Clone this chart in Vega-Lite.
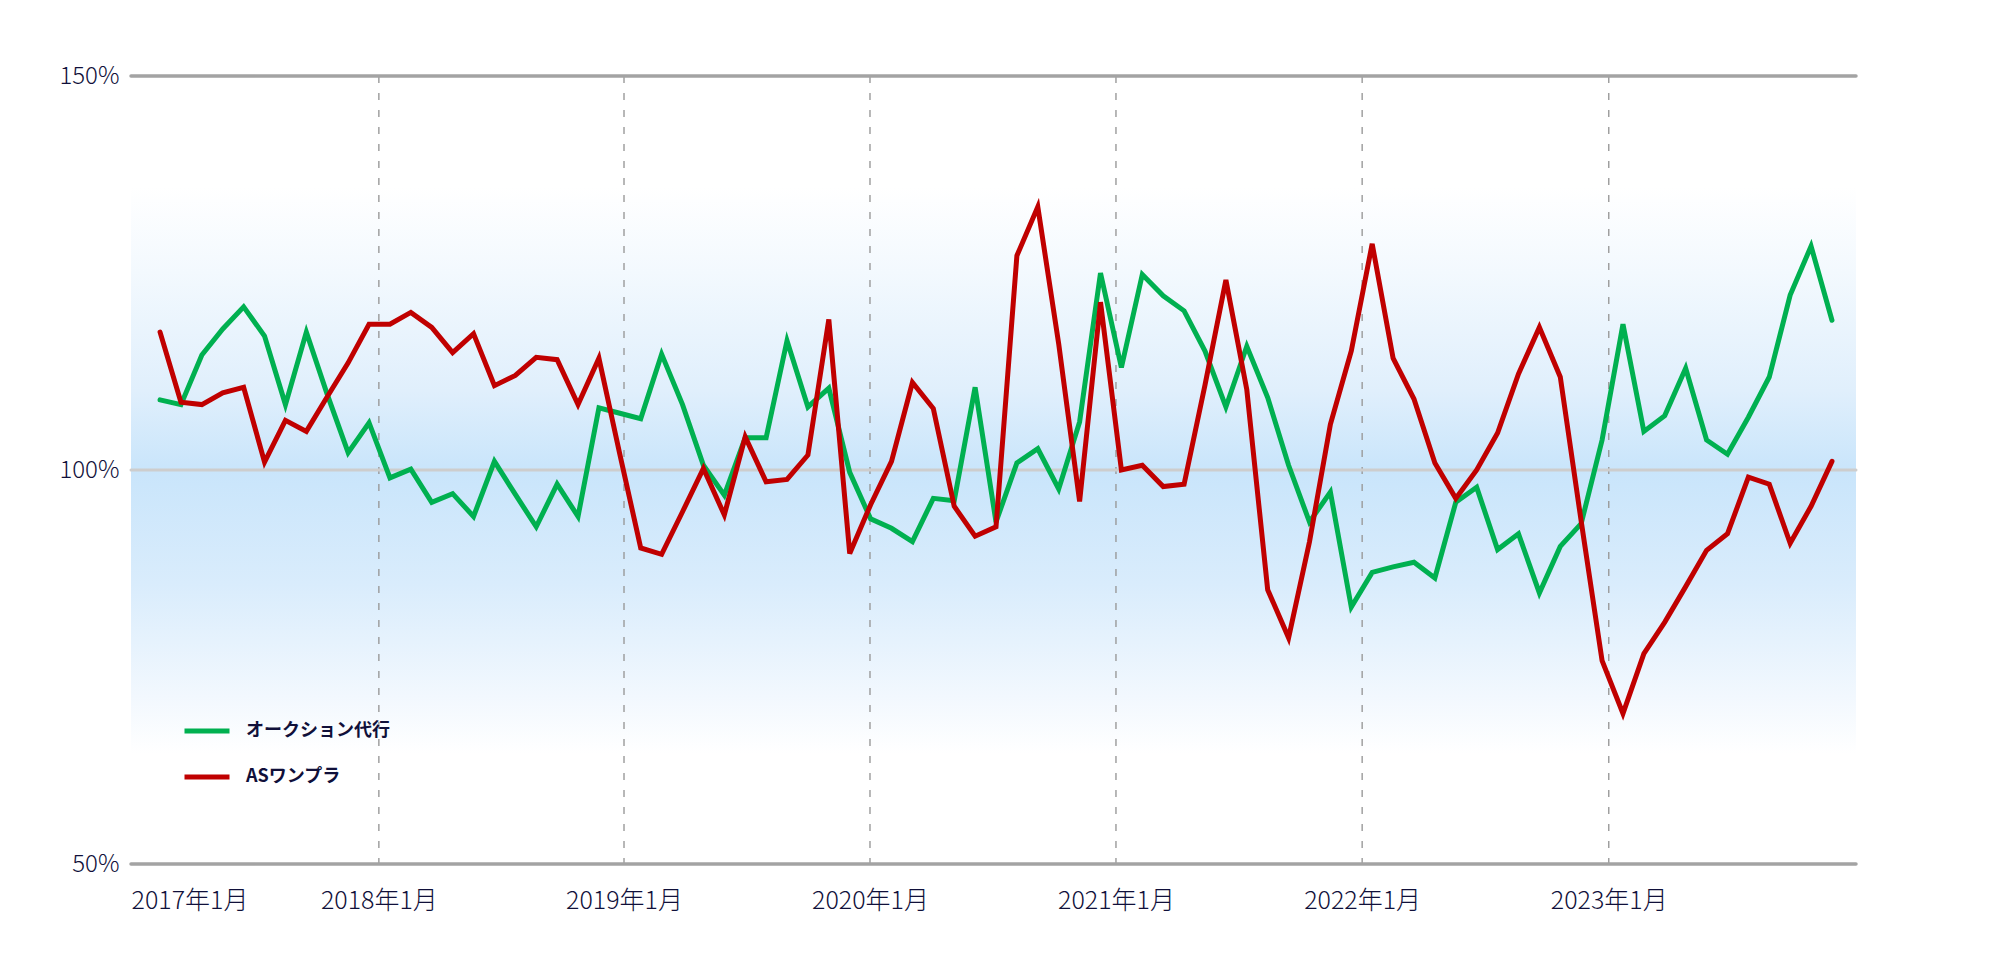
{
  "$schema": "https://vega.github.io/schema/vega-lite/v6.json",
  "width": 1725,
  "height": 788,
  "autosize": {"type": "none"},
  "padding": {"left": 131, "top": 76, "right": 144, "bottom": 99},
  "background": "white",
  "config": {"view": {"stroke": null}, "font": "Noto Sans CJK JP"},
  "datasets": {
    "band": [{"idx": -1.39, "idx2": 81.15, "value": 64, "value2": 136}],
    "hlines": [{"value": 150}, {"value": 100}, {"value": 50}],
    "vlines": [{"idx": 10.47}, {"idx": 22.2}, {"idx": 33.97}, {"idx": 45.74}, {"idx": 57.52}, {"idx": 69.32}],
    "series": [
      {"idx":0,"series":"オークション代行","value":108.9},{"idx":1,"series":"オークション代行","value":108.3},{"idx":2,"series":"オークション代行","value":114.6},{"idx":3,"series":"オークション代行","value":117.9},{"idx":4,"series":"オークション代行","value":120.7},{"idx":5,"series":"オークション代行","value":117.0},{"idx":6,"series":"オークション代行","value":108.3},{"idx":7,"series":"オークション代行","value":117.5},{"idx":8,"series":"オークション代行","value":109.6},{"idx":9,"series":"オークション代行","value":102.2},
      {"idx":10,"series":"オークション代行","value":106.0},{"idx":11,"series":"オークション代行","value":99.0},{"idx":12,"series":"オークション代行","value":100.1},{"idx":13,"series":"オークション代行","value":95.9},{"idx":14,"series":"オークション代行","value":97.0},{"idx":15,"series":"オークション代行","value":94.1},{"idx":16,"series":"オークション代行","value":101.1},{"idx":17,"series":"オークション代行","value":96.9},{"idx":18,"series":"オークション代行","value":92.8},{"idx":19,"series":"オークション代行","value":98.2},
      {"idx":20,"series":"オークション代行","value":94.1},{"idx":21,"series":"オークション代行","value":107.9},{"idx":22,"series":"オークション代行","value":107.2},{"idx":23,"series":"オークション代行","value":106.5},{"idx":24,"series":"オークション代行","value":114.7},{"idx":25,"series":"オークション代行","value":108.3},{"idx":26,"series":"オークション代行","value":100.6},{"idx":27,"series":"オークション代行","value":96.8},{"idx":28,"series":"オークション代行","value":104.1},{"idx":29,"series":"オークション代行","value":104.1},
      {"idx":30,"series":"オークション代行","value":116.4},{"idx":31,"series":"オークション代行","value":108.0},{"idx":32,"series":"オークション代行","value":110.4},{"idx":33,"series":"オークション代行","value":99.7},{"idx":34,"series":"オークション代行","value":93.8},{"idx":35,"series":"オークション代行","value":92.6},{"idx":36,"series":"オークション代行","value":90.9},{"idx":37,"series":"オークション代行","value":96.4},{"idx":38,"series":"オークション代行","value":96.1},{"idx":39,"series":"オークション代行","value":110.5},
      {"idx":40,"series":"オークション代行","value":93.4},{"idx":41,"series":"オークション代行","value":100.9},{"idx":42,"series":"オークション代行","value":102.7},{"idx":43,"series":"オークション代行","value":97.6},{"idx":44,"series":"オークション代行","value":106.1},{"idx":45,"series":"オークション代行","value":125.0},{"idx":46,"series":"オークション代行","value":113.0},{"idx":47,"series":"オークション代行","value":124.8},{"idx":48,"series":"オークション代行","value":122.1},{"idx":49,"series":"オークション代行","value":120.2},
      {"idx":50,"series":"オークション代行","value":115.1},{"idx":51,"series":"オークション代行","value":108.0},{"idx":52,"series":"オークション代行","value":115.7},{"idx":53,"series":"オークション代行","value":109.2},{"idx":54,"series":"オークション代行","value":100.6},{"idx":55,"series":"オークション代行","value":93.4},{"idx":56,"series":"オークション代行","value":97.2},{"idx":57,"series":"オークション代行","value":82.6},{"idx":58,"series":"オークション代行","value":87.0},{"idx":59,"series":"オークション代行","value":87.7},
      {"idx":60,"series":"オークション代行","value":88.3},{"idx":61,"series":"オークション代行","value":86.3},{"idx":62,"series":"オークション代行","value":95.9},{"idx":63,"series":"オークション代行","value":97.8},{"idx":64,"series":"オークション代行","value":89.9},{"idx":65,"series":"オークション代行","value":91.9},{"idx":66,"series":"オークション代行","value":84.4},{"idx":67,"series":"オークション代行","value":90.3},{"idx":68,"series":"オークション代行","value":93.2},{"idx":69,"series":"オークション代行","value":103.8},
      {"idx":70,"series":"オークション代行","value":118.5},{"idx":71,"series":"オークション代行","value":104.9},{"idx":72,"series":"オークション代行","value":106.9},{"idx":73,"series":"オークション代行","value":112.9},{"idx":74,"series":"オークション代行","value":103.8},{"idx":75,"series":"オークション代行","value":102.0},{"idx":76,"series":"オークション代行","value":106.7},{"idx":77,"series":"オークション代行","value":111.8},{"idx":78,"series":"オークション代行","value":122.2},{"idx":79,"series":"オークション代行","value":128.4},
      {"idx":80,"series":"オークション代行","value":119.0},
      {"idx":0,"series":"ASワンプラ","value":117.5},{"idx":1,"series":"ASワンプラ","value":108.6},{"idx":2,"series":"ASワンプラ","value":108.3},{"idx":3,"series":"ASワンプラ","value":109.8},{"idx":4,"series":"ASワンプラ","value":110.5},{"idx":5,"series":"ASワンプラ","value":101.0},{"idx":6,"series":"ASワンプラ","value":106.3},{"idx":7,"series":"ASワンプラ","value":104.9},{"idx":8,"series":"ASワンプラ","value":109.3},{"idx":9,"series":"ASワンプラ","value":113.6},
      {"idx":10,"series":"ASワンプラ","value":118.5},{"idx":11,"series":"ASワンプラ","value":118.5},{"idx":12,"series":"ASワンプラ","value":120.0},{"idx":13,"series":"ASワンプラ","value":118.1},{"idx":14,"series":"ASワンプラ","value":114.9},{"idx":15,"series":"ASワンプラ","value":117.3},{"idx":16,"series":"ASワンプラ","value":110.7},{"idx":17,"series":"ASワンプラ","value":112.0},{"idx":18,"series":"ASワンプラ","value":114.3},{"idx":19,"series":"ASワンプラ","value":114.0},
      {"idx":20,"series":"ASワンプラ","value":108.3},{"idx":21,"series":"ASワンプラ","value":114.2},{"idx":22,"series":"ASワンプラ","value":102.0},{"idx":23,"series":"ASワンプラ","value":90.1},{"idx":24,"series":"ASワンプラ","value":89.3},{"idx":25,"series":"ASワンプラ","value":94.7},{"idx":26,"series":"ASワンプラ","value":100.2},{"idx":27,"series":"ASワンプラ","value":94.3},{"idx":28,"series":"ASワンプラ","value":104.2},{"idx":29,"series":"ASワンプラ","value":98.5},
      {"idx":30,"series":"ASワンプラ","value":98.8},{"idx":31,"series":"ASワンプラ","value":101.9},{"idx":32,"series":"ASワンプラ","value":119.1},{"idx":33,"series":"ASワンプラ","value":89.4},{"idx":34,"series":"ASワンプラ","value":95.6},{"idx":35,"series":"ASワンプラ","value":101.1},{"idx":36,"series":"ASワンプラ","value":111.1},{"idx":37,"series":"ASワンプラ","value":107.8},{"idx":38,"series":"ASワンプラ","value":95.4},{"idx":39,"series":"ASワンプラ","value":91.6},
      {"idx":40,"series":"ASワンプラ","value":92.8},{"idx":41,"series":"ASワンプラ","value":127.2},{"idx":42,"series":"ASワンプラ","value":133.4},{"idx":43,"series":"ASワンプラ","value":116.0},{"idx":44,"series":"ASワンプラ","value":96.0},{"idx":45,"series":"ASワンプラ","value":121.3},{"idx":46,"series":"ASワンプラ","value":100.0},{"idx":47,"series":"ASワンプラ","value":100.6},{"idx":48,"series":"ASワンプラ","value":97.9},{"idx":49,"series":"ASワンプラ","value":98.2},
      {"idx":50,"series":"ASワンプラ","value":110.8},{"idx":51,"series":"ASワンプラ","value":124.1},{"idx":52,"series":"ASワンプラ","value":110.2},{"idx":53,"series":"ASワンプラ","value":84.8},{"idx":54,"series":"ASワンプラ","value":78.7},{"idx":55,"series":"ASワンプラ","value":90.9},{"idx":56,"series":"ASワンプラ","value":105.8},{"idx":57,"series":"ASワンプラ","value":115.1},{"idx":58,"series":"ASワンプラ","value":128.7},{"idx":59,"series":"ASワンプラ","value":114.2},
      {"idx":60,"series":"ASワンプラ","value":109.0},{"idx":61,"series":"ASワンプラ","value":100.9},{"idx":62,"series":"ASワンプラ","value":96.4},{"idx":63,"series":"ASワンプラ","value":100.0},{"idx":64,"series":"ASワンプラ","value":104.7},{"idx":65,"series":"ASワンプラ","value":112.2},{"idx":66,"series":"ASワンプラ","value":118.1},{"idx":67,"series":"ASワンプラ","value":111.8},{"idx":68,"series":"ASワンプラ","value":93.5},{"idx":69,"series":"ASワンプラ","value":75.8},
      {"idx":70,"series":"ASワンプラ","value":69.1},{"idx":71,"series":"ASワンプラ","value":76.7},{"idx":72,"series":"ASワンプラ","value":80.7},{"idx":73,"series":"ASワンプラ","value":85.2},{"idx":74,"series":"ASワンプラ","value":89.8},{"idx":75,"series":"ASワンプラ","value":91.9},{"idx":76,"series":"ASワンプラ","value":99.1},{"idx":77,"series":"ASワンプラ","value":98.2},{"idx":78,"series":"ASワンプラ","value":90.7},{"idx":79,"series":"ASワンプラ","value":95.4},
      {"idx":80,"series":"ASワンプラ","value":101.1}
    ]
  },
  "layer": [
    {
      "data": {"name": "band"},
      "mark": {
        "type": "rect",
        "strokeWidth": 0,
        "fill": {
          "gradient": "linear", "x1": 0, "y1": 0, "x2": 0, "y2": 1,
          "stops": [
            {"offset": 0, "color": "#ffffff"},
            {"offset": 0.15, "color": "#f3f9fe"},
            {"offset": 0.36, "color": "#e0effc"},
            {"offset": 0.5, "color": "#c9e5fb"},
            {"offset": 0.7, "color": "#d9ecfc"},
            {"offset": 0.9, "color": "#f2f8fe"},
            {"offset": 1, "color": "#ffffff"}
          ]
        }
      },
      "encoding": {
        "x": {"field": "idx", "type": "quantitative"},
        "x2": {"field": "idx2"},
        "y": {"field": "value", "type": "quantitative"},
        "y2": {"field": "value2"}
      }
    },
    {
      "data": {"name": "vlines"},
      "mark": {"type": "rule", "stroke": "#9a9a9a", "strokeWidth": 1.4, "strokeDash": [7, 10]},
      "encoding": {
        "x": {"field": "idx", "type": "quantitative"}
      }
    },
    {
      "data": {"name": "hlines"},
      "mark": {"type": "rule", "strokeCap": "round"},
      "encoding": {
        "y": {"field": "value", "type": "quantitative"},
        "stroke": {"condition": {"test": "datum.value === 100", "value": "#cdcdcd"}, "value": "#a3a3a3"},
        "strokeWidth": {"condition": {"test": "datum.value === 100", "value": 3}, "value": 3.5}
      }
    },
    {
      "data": {"name": "series"},
      "mark": {"type": "line", "strokeWidth": 5, "strokeCap": "round"},
      "encoding": {
        "x": {
          "field": "idx", "type": "quantitative",
          "scale": {"domain": [-1.39, 81.15], "nice": false, "zero": false},
          "axis": {
            "title": null, "grid": false, "domain": false, "ticks": false, "tickSize": 0,
            "values": [-1.39, 10.47, 22.2, 33.97, 45.74, 57.52, 69.32],
            "labelExpr": "datum.value < 0 ? '2017年1月' : datum.value < 11 ? '2018年1月' : datum.value < 23 ? '2019年1月' : datum.value < 34 ? '2020年1月' : datum.value < 46 ? '2021年1月' : datum.value < 58 ? '2022年1月' : '2023年1月'",
            "labelFlush": true, "labelOverlap": false,
            "labelPadding": 24, "labelFontSize": 25, "labelFontWeight": 300,
            "labelColor": "#10103a", "labelFont": "Noto Sans CJK JP"
          }
        },
        "y": {
          "field": "value", "type": "quantitative",
          "scale": {"domain": [50, 150], "nice": false, "zero": false},
          "axis": {
            "title": null, "grid": false, "domain": false, "ticks": false, "tickSize": 0,
            "values": [50, 100, 150],
            "labelExpr": "datum.value + '%'",
            "labelPadding": 12, "labelFontSize": 24, "labelFontWeight": 300,
            "labelColor": "#10103a", "labelFont": "Noto Sans CJK JP"
          }
        },
        "color": {
          "field": "series", "type": "nominal",
          "scale": {"domain": ["オークション代行", "ASワンプラ"], "range": ["#00b050", "#c00000"]},
          "legend": {
            "orient": "none", "legendX": 51, "legendY": 630, "title": null, "padding": 0,
            "symbolType": "stroke", "symbolStrokeWidth": 5, "symbolSize": 2025,
            "labelFontSize": 18, "labelFontWeight": "bold", "labelColor": "#10103a",
            "labelFont": "Noto Sans CJK JP", "labelOffset": 14, "rowPadding": 11
          }
        }
      }
    }
  ]
}
